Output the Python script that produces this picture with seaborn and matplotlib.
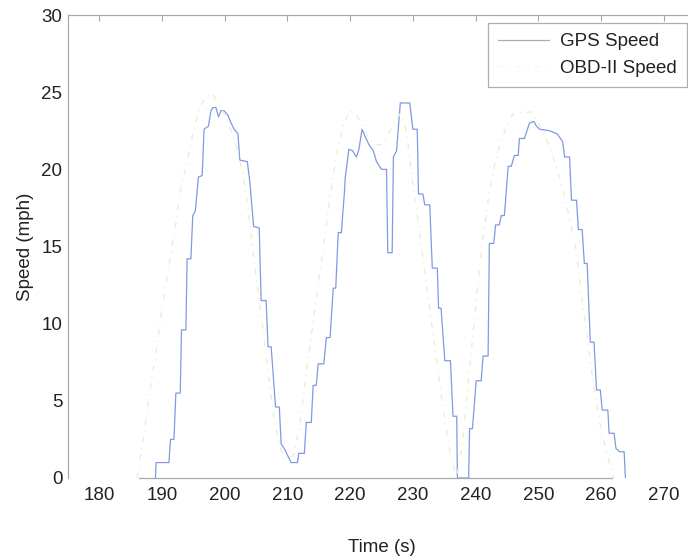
import matplotlib
matplotlib.use("Agg")
import matplotlib.pyplot as plt
import seaborn as sns
import pandas as pd

# ---- data ----
gps_time = [188.95, 189.05, 191.1, 191.35, 191.9, 192.2, 192.9, 193.1, 193.8, 194.0,
            194.6, 194.9, 195.3, 195.8, 196.4, 196.7, 197.4, 197.8, 198.1, 198.6,
            199.0, 199.4, 199.9, 200.5, 201.0, 201.5, 202.1, 202.4, 203.6, 204.0,
            204.6, 205.5, 205.8, 206.6, 206.9, 207.4, 208.1, 208.7, 209.0, 209.5,
            210.1, 210.6, 211.6, 211.8, 212.7, 213.0, 213.8, 214.1, 214.6, 214.9,
            215.8, 216.2, 216.8, 217.3, 217.7, 218.1, 218.6, 219.1, 219.2, 219.8,
            220.4, 221.0, 221.4, 221.9, 222.3, 223.0, 223.7, 224.2, 225.0, 225.8,
            226.0, 226.7, 226.9, 227.4, 228.0, 229.5, 230.0, 230.7, 230.9, 231.6,
            231.9, 232.7, 233.1, 233.9, 234.1, 234.5, 235.1, 236.0, 236.4, 237.0,
            237.1, 238.9, 239.05, 239.5, 240.1, 240.9, 241.2, 242.0, 242.2, 242.9,
            243.2, 243.8, 244.1, 244.6, 245.2, 245.7, 246.2, 246.8, 247.0, 247.8,
            248.6, 249.3, 249.7, 250.2, 251.8, 253.0, 253.9, 254.2, 255.0, 255.3,
            256.1, 256.4, 257.0, 257.35, 257.8, 258.3, 258.9, 259.3, 259.9, 260.2,
            261.1, 261.3, 262.1, 262.4, 263.0, 263.7, 263.9]
gps_speed = [0.0, 1.0, 1.0, 2.5, 2.5, 5.5, 5.5, 9.6, 9.6, 14.2,
             14.2, 17.0, 17.3, 19.5, 19.6, 22.6, 22.8, 23.8, 24.0, 24.0,
             23.4, 23.8, 23.8, 23.5, 23.0, 22.6, 22.3, 20.6, 20.5, 19.2,
             16.3, 16.2, 11.5, 11.5, 8.5, 8.5, 4.6, 4.6, 2.2, 1.9,
             1.4, 1.0, 1.0, 1.6, 1.6, 3.6, 3.6, 6.0, 6.0, 7.4,
             7.4, 9.1, 9.1, 12.3, 12.3, 15.9, 15.9, 18.6, 19.4, 21.3,
             21.2, 20.8, 21.3, 22.6, 22.2, 21.6, 21.2, 20.5, 20.0, 20.0,
             14.6, 14.6, 20.8, 21.2, 24.3, 24.3, 22.6, 22.6, 18.4, 18.4,
             17.7, 17.7, 13.6, 13.6, 11.0, 11.0, 7.6, 7.6, 4.0, 4.0,
             0.0, 0.0, 3.2, 3.2, 6.3, 6.3, 7.9, 7.9, 15.2, 15.2,
             16.4, 16.4, 17.0, 17.0, 20.2, 20.2, 20.9, 20.9, 22.0, 22.0,
             23.0, 23.1, 22.8, 22.6, 22.5, 22.3, 21.8, 20.8, 20.8, 18.0,
             18.0, 16.1, 16.1, 13.9, 13.9, 8.8, 8.8, 5.7, 5.7, 4.4,
             4.4, 2.9, 2.9, 1.9, 1.7, 1.7, 0.0]

obd_time = [186, 187, 188, 189, 190, 191, 192, 193, 194, 195, 196, 197, 198, 199,
            200, 201, 202, 203, 204, 205, 206, 207, 208, 209, 210, 211, 212, 213,
            214, 215, 216, 217, 218, 219, 220, 221, 222, 223, 224, 225, 226, 227,
            228, 229, 230, 231, 232, 233, 234, 235, 236, 237, 238, 239, 240, 241,
            242, 243, 244, 245, 246, 247, 248, 249, 250, 251, 252, 253, 254, 255,
            256, 257, 258, 259, 260, 261, 262]
obd_speed = [0.0, 2.5, 5.5, 8.0, 11.0, 13.5, 16.0, 18.8, 20.5, 22.5, 24.0, 24.7, 24.9, 24.3,
             23.5, 22.5, 21.3, 19.5, 16.5, 13.0, 10.0, 6.5, 3.5, 1.8, 1.2, 1.5, 3.5, 6.8,
             9.8, 12.8, 15.8, 18.8, 21.3, 23.0, 23.8, 23.5, 22.8, 22.0, 21.6, 21.6, 22.2, 23.0,
             23.6, 22.5, 19.0, 16.2, 13.0, 10.0, 7.0, 4.0, 1.5, 0.0, 2.5, 7.0, 11.0, 15.0,
             18.0, 20.2, 21.8, 22.8, 23.6, 23.7, 23.7, 23.7, 23.0, 22.2, 21.3, 20.0, 18.5, 16.8,
             14.8, 11.5, 8.5, 5.5, 3.2, 1.5, 0.0]

series_names = ["GPS Speed", "OBD-II Speed"]
x_ticks = [180, 190, 200, 210, 220, 230, 240, 250, 260, 270]
y_ticks = [0, 5, 10, 15, 20, 25, 30]

gps_df = pd.DataFrame({"Time": gps_time, "Speed": gps_speed})
obd_df = pd.DataFrame({"Time": obd_time, "Speed": obd_speed})

# ---- style ----
sns.set_theme(style="white")
plt.rcParams["font.family"] = ["Liberation Sans", "DejaVu Sans"]
text_color = "#222222"
spine_color = "#a8a8a8"

fig = plt.figure(figsize=(6.88, 5.59), dpi=100)
ax = fig.add_axes([68 / 688, 81 / 559, 627 / 688, 463 / 559])

sns.lineplot(data=gps_df, x="Time", y="Speed", ax=ax, estimator=None, sort=False,
             color="#809ae0", linewidth=0.9, label=series_names[0])
sns.lineplot(data=obd_df, x="Time", y="Speed", ax=ax, estimator=None, sort=False,
             color="#e9efd0", linewidth=1.0, linestyle=(0, (4, 4, 1, 4)),
             label=series_names[1])

ax.set_xlim(175, 275)
ax.set_ylim(0, 30)
ax.set_xticks(x_ticks)
ax.set_yticks(y_ticks)
ax.tick_params(axis="both", direction="in", length=4.5, width=0.8, color=spine_color,
               labelsize=13.5, labelcolor=text_color, top=True, right=True)
ax.tick_params(axis="x", pad=6.5)
ax.tick_params(axis="y", pad=4)

for s in ax.spines.values():
    s.set_color(spine_color)
    s.set_linewidth(0.9)
ax.spines["bottom"].set_bounds(186.4, 261.8)

ax.set_xlabel("Time (s)", fontsize=13.5, color=text_color, labelpad=25)
ax.set_ylabel("Speed (mph)", fontsize=13.5, color=text_color, labelpad=5)

leg = ax.legend(loc="upper right", bbox_to_anchor=(0.987, 0.983), borderaxespad=0,
                fontsize=13.5, frameon=True, fancybox=False, handlelength=2.7,
                handletextpad=0.6, labelspacing=0.5, borderpad=0.55)
leg.get_frame().set_edgecolor("#9a9a9a")
leg.get_frame().set_linewidth(0.9)
for t in leg.get_texts():
    t.set_color(text_color)
lines = leg.get_lines()
lines[0].set_color("#a9abb5")
lines[1].set_color("#f6f8ee")

fig.savefig("out.png", dpi=100)
